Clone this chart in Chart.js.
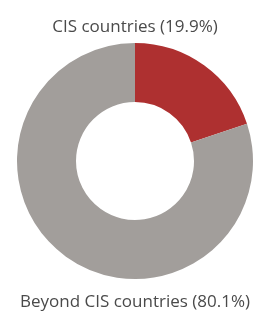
<!DOCTYPE html>
<html>
<head>
<meta charset="utf-8">
<script src="https://cdn.jsdelivr.net/npm/chart.js@4"></script>
<style>
  html, body { margin: 0; padding: 0; background: #fff; }
  #wrap { width: 259px; height: 313px; }
</style>
</head>
<body>
<div id="wrap"><canvas id="chart-regions" width="259" height="313"></canvas></div>
<script>
// ─── DATA ─────────────────────────────────────────────────────
const regionLabels = ["CIS countries", "Beyond CIS countries"];
const regionShares = [19.9, 80.1];
const regionColors = ["#ae3030", "#a29e9b"];

const fontFamily = "'Open Sans', sans-serif";
const textColor  = "#4a4a4a";
const caption = (i) => `${regionLabels[i]} (${regionShares[i]}%)`;

new Chart(document.getElementById("chart-regions"), {
  type: "doughnut",
  data: {
    labels: regionLabels,
    datasets: [{
      data: regionShares,
      backgroundColor: regionColors,
      borderWidth: 0
    }]
  },
  options: {
    responsive: false,
    animation: false,
    cutout: "50%",
    layout: { padding: { left: 17, right: 6, top: 0, bottom: 0 } },
    plugins: {
      legend: { display: false },
      tooltip: { enabled: false },
      title: {
        display: true,
        text: caption(0),
        color: textColor,
        font: { family: fontFamily, size: 17, weight: "normal" },
        padding: { top: 16.8, bottom: 5.8 }
      },
      subtitle: {
        display: true,
        position: "bottom",
        text: caption(1),
        color: textColor,
        font: { family: fontFamily, size: 17, weight: "normal" },
        padding: { top: 12.8, bottom: 0.8 }
      }
    }
  }
});
</script>
</body>
</html>
